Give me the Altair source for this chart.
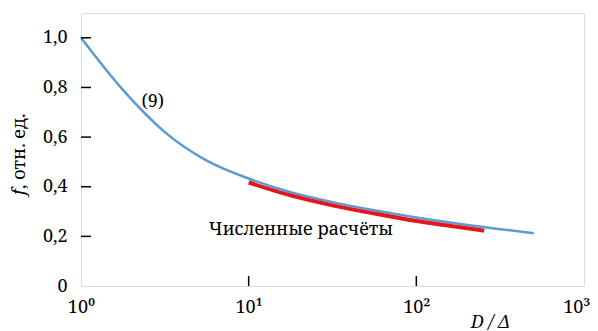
import altair as alt
import pandas as pd

# Blue curve: formula (9)
theory_D = [1, 1.778, 3.162, 5.623, 10, 17.78, 31.62, 56.23, 100, 177.8, 316.2, 501]
theory_f = [1.0, 0.79, 0.62, 0.505, 0.433, 0.378, 0.338, 0.305, 0.276, 0.251, 0.229, 0.213]

# Red curve: numerical calculations
num_D = [10, 17.78, 31.62, 56.23, 100, 177.8, 254]
num_f = [0.417, 0.365, 0.325, 0.292, 0.262, 0.238, 0.223]

x_ticks = [10, 100]
y_ticks = [0.2, 0.4, 0.6, 0.8, 1.0]
x_labels = {1: "10⁰", 10: "10¹", 100: "10²", 1000: "10³"}

W, H = 503, 273
FONT = "Noto Serif"
FS = 18

theory = pd.DataFrame({"D": theory_D, "f": theory_f})
numeric = pd.DataFrame({"D": num_D, "f": num_f})

xscale = alt.Scale(type="log", domain=[1, 1000], nice=False)
yscale = alt.Scale(domain=[0, 1.1], nice=False, zero=True)

label_expr = " : ".join(
    f"datum.value == {k} ? '{v}'" for k, v in x_labels.items()
) + " : ''"

xaxis = alt.Axis(
    values=[1, 10, 100, 1000], labelExpr=label_expr, ticks=False, domain=False,
    grid=False, labelFont=FONT, labelFontSize=FS, labelColor="black",
    labelPadding=12, labelBound=False, labelFlush=False, labelOverlap=False,
    labelAlign={"condition": {"test": "datum.value == 1000", "value": "right"}, "value": "center"},
    labelOffset={"condition": {"test": "datum.value == 1000", "value": 6}, "value": 0},
    title="D / Δ", titleFont=FONT, titleFontSize=FS, titleFontStyle="italic",
    titleFontWeight="normal", titleColor="black", titleX=409, titleY=27,
    titleAlign="center", titleBaseline="top",
)
yaxis = alt.Axis(
    values=[0, 0.2, 0.4, 0.6, 0.8, 1.0],
    labelExpr="datum.value == 0 ? '0' : replace(format(datum.value, '.1f'), '.', ',')",
    ticks=False, domain=False, grid=False, labelFont=FONT, labelFontSize=FS,
    labelColor="black", labelPadding=14, title=None,
)

blue = alt.Chart(theory).mark_line(color="#5b9bd5", strokeWidth=2.5, interpolate="monotone").encode(
    x=alt.X("D:Q", scale=xscale, axis=xaxis),
    y=alt.Y("f:Q", scale=yscale, axis=yaxis),
)
red = alt.Chart(numeric).mark_line(color="#e3161c", strokeWidth=4, interpolate="monotone").encode(
    x=alt.X("D:Q", scale=xscale),
    y=alt.Y("f:Q", scale=yscale),
)

xt = alt.Chart(pd.DataFrame({"D": x_ticks})).mark_rule(color="black", strokeWidth=1.5).encode(
    x=alt.X("D:Q", scale=xscale), y=alt.value(H), y2=alt.value(H - 10)
)
yt = alt.Chart(pd.DataFrame({"f": y_ticks})).mark_rule(color="black", strokeWidth=1.5).encode(
    y=alt.Y("f:Q", scale=yscale), x=alt.value(0), x2=alt.value(10)
)

ann = pd.DataFrame({"D": [2.68], "f": [0.743], "t": ["(9)"]})
lab9 = alt.Chart(ann).mark_text(font=FONT, fontSize=FS, color="black", align="center", baseline="middle").encode(
    x=alt.X("D:Q", scale=xscale), y=alt.Y("f:Q", scale=yscale), text="t:N"
)
ann2 = pd.DataFrame({"D": [5.78], "f": [0.226], "t": ["Численные расчёты"]})
labn = alt.Chart(ann2).mark_text(font=FONT, fontSize=FS, color="black", align="left", baseline="middle").encode(
    x=alt.X("D:Q", scale=xscale), y=alt.Y("f:Q", scale=yscale), text="t:N"
)

ytitle_f = alt.Chart(pd.DataFrame({"t": ["f"]})).mark_text(
    font=FONT, fontSize=FS, fontStyle="italic", color="black", angle=270, align="left", baseline="middle"
).encode(x=alt.value(-61), y=alt.value(182), text="t:N")
ytitle_r = alt.Chart(pd.DataFrame({"t": [", отн. ед."]})).mark_text(
    font=FONT, fontSize=FS, color="black", angle=270, align="left", baseline="middle"
).encode(x=alt.value(-61), y=alt.value(176), text="t:N")

chart = alt.layer(blue, red, xt, yt, lab9, labn, ytitle_f, ytitle_r).properties(
    width=W, height=H,
    autosize=alt.AutoSizeParams(type="none"),
    padding={"left": 73, "top": 5, "right": 6, "bottom": 45},
).configure_view(stroke="black", strokeWidth=1.5).configure(background="white")

chart.save("out.html", embed_options={"renderer": "svg", "actions": False})
